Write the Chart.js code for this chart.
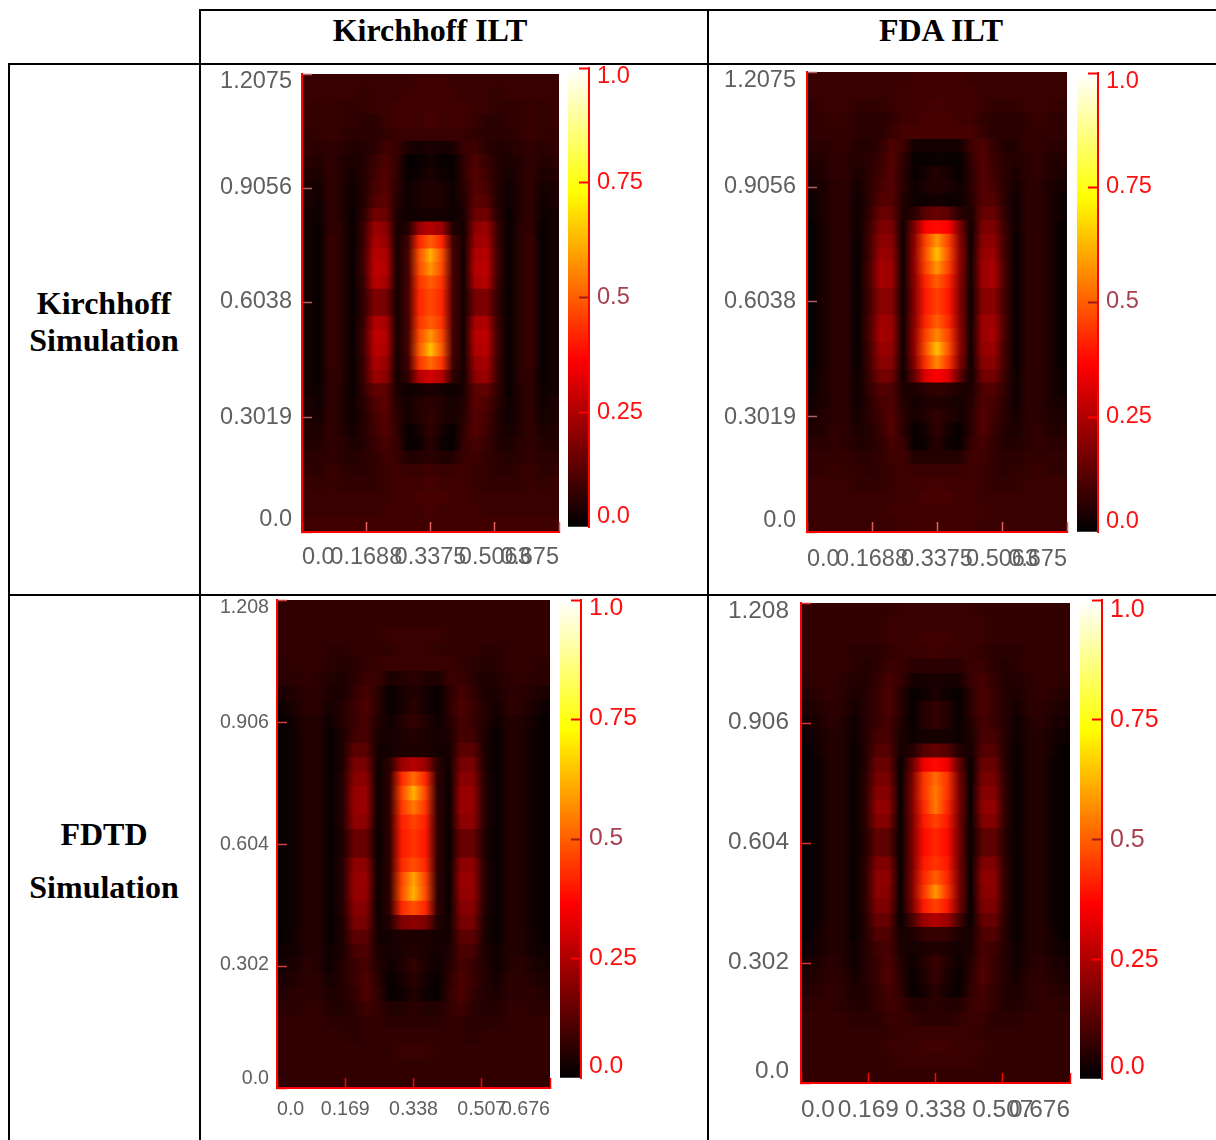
<!DOCTYPE html>
<html>
<head>
<meta charset="utf-8">
<script src="https://cdn.jsdelivr.net/npm/chart.js@4"></script>
<style>
  html, body { margin: 0; padding: 0; background: #fff; }
  #page { position: relative; width: 1216px; height: 1140px; overflow: hidden; }
  .rule { position: absolute; background: #000; }
  .cellText { position: absolute; transform: translate(-50%, -50%); white-space: nowrap; color: #000;
    font: bold 32px "Liberation Serif", serif; }
  canvas { position: absolute; filter: blur(0.55px); }
</style>
</head>
<body>
<div id="page"></div>
<script>
// Tick values and labels
const ticksX1 = [0, 0.1688, 0.3375, 0.5063, 0.675];
const labelsX1 = ['0.0', '0.1688', '0.3375', '0.5063', '0.675'];
const ticksY1 = [0, 0.3019, 0.6038, 0.9056, 1.2075];
const labelsY1 = ['0.0', '0.3019', '0.6038', '0.9056', '1.2075'];
const ticksX2 = [0, 0.169, 0.338, 0.507, 0.676];
const labelsX2 = ['0.0', '0.169', '0.338', '0.507', '0.676'];
const ticksY2 = [0, 0.302, 0.604, 0.906, 1.208];
const labelsY2 = ['0.0', '0.302', '0.604', '0.906', '1.208'];
const barTicks = [0, 0.25, 0.5, 0.75, 1];
const barLabels = ['0.0', '0.25', '0.5', '0.75', '1.0'];
const barLevels = [0, 0.05, 0.1, 0.15, 0.2, 0.25, 0.3, 0.365, 0.4, 0.45, 0.5, 0.55, 0.6, 0.65, 0.7, 0.73, 0.75, 0.8, 0.85, 0.9, 0.95, 1];

// Intensity in percent, top row first
const kirchhoffIlt = [
  [8,8,8,8,8,8,8,8,8,8,9,9,9,8,8,8,8,8,8,8,8,8,8],
  [8,8,8,8,8,7,8,8,8,9,9,9,9,9,8,8,8,7,8,8,8,8,8],
  [8,7,8,7,7,7,8,8,9,9,9,9,9,9,9,8,8,7,7,7,8,7,8],
  [8,7,8,7,7,6,6,8,9,9,9,10,9,9,9,8,6,6,7,7,8,7,8],
  [7,7,8,7,6,6,6,7,8,8,8,8,8,8,8,7,6,6,6,7,8,7,7],
  [7,6,7,6,5,5,6,9,8,4,3,4,3,4,8,9,6,5,5,6,7,6,7],
  [6,5,7,5,4,5,8,11,7,1,1,3,1,1,7,11,8,5,4,5,7,5,6],
  [5,4,7,5,3,5,9,12,7,1,2,4,2,1,7,12,9,5,3,5,7,4,5],
  [4,3,7,5,2,5,10,12,6,2,4,5,4,2,6,12,10,5,2,5,7,3,4],
  [4,2,7,5,2,5,12,13,5,2,4,5,4,2,5,13,12,5,2,5,7,2,4],
  [3,2,7,5,1,6,16,15,4,2,3,3,3,2,4,15,16,6,1,5,7,2,3],
  [3,1,7,6,1,8,22,20,3,5,22,26,22,5,3,20,22,8,1,6,7,1,3],
  [3,1,8,6,1,8,24,22,3,9,42,50,42,9,3,22,24,8,1,6,8,1,3],
  [3,1,8,6,1,9,26,25,3,10,48,62,48,10,3,25,26,9,1,6,8,1,3],
  [3,1,8,6,1,9,27,26,3,10,47,58,47,10,3,26,27,9,1,6,8,1,3],
  [3,1,8,6,1,8,26,24,3,10,44,50,44,10,3,24,26,8,1,6,8,1,3],
  [3,1,8,6,1,7,18,17,3,10,42,47,42,10,3,17,18,7,1,6,8,1,3],
  [3,1,8,6,1,7,18,17,3,10,42,47,42,10,3,17,18,7,1,6,8,1,3],
  [3,1,8,6,1,8,25,24,3,10,44,50,44,10,3,24,25,8,1,6,8,1,3],
  [3,1,8,6,1,9,27,26,3,10,47,58,47,10,3,26,27,9,1,6,8,1,3],
  [3,1,8,6,1,9,26,25,3,10,49,64,49,10,3,25,26,9,1,6,8,1,3],
  [3,1,8,6,1,8,24,22,3,9,44,52,44,9,3,22,24,8,1,6,8,1,3],
  [3,1,7,6,1,8,22,20,3,7,26,30,26,7,3,20,22,8,1,6,7,1,3],
  [3,2,7,5,1,7,14,13,4,2,3,4,3,2,4,13,14,7,1,5,7,2,3],
  [4,2,7,5,2,6,11,13,5,3,5,6,5,3,5,13,11,6,2,5,7,2,4],
  [4,3,7,5,2,5,10,12,6,3,5,7,5,3,6,12,10,5,2,5,7,3,4],
  [5,4,7,5,3,5,9,12,7,1,3,7,3,1,7,12,9,5,3,5,7,4,5],
  [5,5,7,6,4,5,8,10,8,1,2,6,2,1,8,10,8,5,4,6,7,5,5],
  [6,6,7,6,5,6,7,9,8,5,5,6,5,5,8,9,7,6,5,6,7,6,6],
  [7,6,8,7,6,6,7,8,9,8,8,9,8,8,9,8,7,6,6,7,8,6,7],
  [8,7,8,7,7,7,7,8,9,9,9,10,9,9,9,8,7,7,7,7,8,7,8],
  [8,8,8,8,8,8,8,8,9,9,10,10,10,9,9,8,8,8,8,8,8,8,8],
  [8,8,8,8,8,8,8,9,9,9,9,10,9,9,9,9,8,8,8,8,8,8,8],
  [9,9,9,9,9,9,9,9,9,9,9,9,9,9,9,9,9,9,9,9,9,9,9]
];

const fdaIlt = [
  [8,8,8,8,8,8,8,8,8,9,9,9,9,9,8,8,8,8,8,8,8,8,8],
  [8,8,8,8,8,8,8,8,9,9,9,9,9,9,9,8,8,8,8,8,8,8,8],
  [7,8,8,8,7,7,7,8,9,9,9,10,9,9,9,8,7,7,7,8,8,8,7],
  [7,7,8,7,6,6,6,7,9,9,10,10,10,9,9,7,6,6,6,7,8,7,7],
  [7,7,7,7,6,6,6,8,10,10,10,10,10,10,10,8,6,6,6,7,7,7,7],
  [6,6,7,7,5,5,7,11,9,3,3,3,3,3,9,11,7,5,5,7,7,6,6],
  [5,5,7,6,5,6,8,12,7,1,1,2,1,1,7,12,8,6,5,6,7,5,5],
  [4,5,7,6,4,6,9,12,6,1,3,5,3,1,6,12,9,6,4,6,7,5,4],
  [3,4,6,6,3,6,10,12,6,2,4,5,4,2,6,12,10,6,3,6,6,4,3],
  [2,4,6,6,2,6,12,12,5,2,2,3,2,2,5,12,12,6,2,6,6,4,2],
  [2,4,6,6,2,7,15,14,4,6,13,15,13,6,4,14,15,7,2,6,6,4,2],
  [1,4,6,6,2,8,18,17,2,18,36,38,36,18,2,17,18,8,2,6,6,4,1],
  [1,4,6,6,1,9,20,19,2,20,46,58,46,20,2,19,20,9,1,6,6,4,1],
  [1,4,6,6,1,9,22,21,2,21,48,64,48,21,2,21,22,9,1,6,6,4,1],
  [1,4,6,6,1,10,24,22,2,21,46,58,46,21,2,22,24,10,1,6,6,4,1],
  [1,4,6,6,1,10,24,22,2,20,42,50,42,20,2,22,24,10,1,6,6,4,1],
  [1,4,6,6,1,9,20,19,2,19,40,46,40,19,2,19,20,9,1,6,6,4,1],
  [1,4,6,6,1,9,20,19,2,19,40,46,40,19,2,19,20,9,1,6,6,4,1],
  [1,4,6,6,1,10,23,22,2,20,42,50,42,20,2,22,23,10,1,6,6,4,1],
  [1,4,6,6,1,10,24,22,2,21,46,56,46,21,2,22,24,10,1,6,6,4,1],
  [1,4,6,6,1,9,22,21,2,21,48,64,48,21,2,21,22,9,1,6,6,4,1],
  [1,4,6,6,1,9,20,19,2,19,44,56,44,19,2,19,20,9,1,6,6,4,1],
  [2,4,6,6,2,8,17,16,2,14,32,36,32,14,2,16,17,8,2,6,6,4,2],
  [2,4,6,6,2,7,12,11,4,4,6,7,6,4,4,11,12,7,2,6,6,4,2],
  [3,4,6,6,2,6,10,11,5,3,4,5,4,3,5,11,10,6,2,6,6,4,3],
  [4,5,6,6,3,6,9,12,6,3,5,7,5,3,6,12,9,6,3,6,6,5,4],
  [5,5,7,6,4,5,8,12,6,1,3,7,3,1,6,12,8,5,4,6,7,5,5],
  [6,6,7,6,5,5,7,10,8,1,2,6,2,1,8,10,7,5,5,6,7,6,6],
  [7,7,7,7,6,6,7,9,9,5,5,5,5,5,9,9,7,6,6,7,7,7,7],
  [7,7,8,7,7,6,7,8,9,8,8,8,8,8,9,8,7,6,7,7,8,7,7],
  [8,8,8,8,7,7,7,8,9,9,9,10,9,9,9,8,7,7,7,8,8,8,8],
  [8,8,8,8,8,8,8,8,9,9,10,10,10,9,9,8,8,8,8,8,8,8,8],
  [8,8,8,8,8,8,8,9,9,9,9,9,9,9,9,9,8,8,8,8,8,8,8],
  [8,8,8,8,8,8,8,8,9,9,9,9,9,9,9,8,8,8,8,8,8,8,8]
];

const fdtdKirchhoff = [
  [7,7,7,7,7,7,7,7,7,7,7,7,7,7,7,7,7,7,7,7,7,7,7],
  [7,7,7,7,7,7,7,7,7,7,7,7,7,7,7,7,7,7,7,7,7,7,7],
  [7,7,7,7,7,7,7,7,7,8,8,8,8,8,7,7,7,7,7,7,7,7,7],
  [7,7,7,7,6,6,7,7,7,7,8,8,8,7,7,7,7,6,6,7,7,7,7],
  [6,7,7,7,6,5,6,7,8,8,8,8,8,8,8,7,6,5,6,7,7,7,6],
  [6,6,7,6,5,4,6,8,8,4,5,6,5,4,8,8,6,4,5,6,7,6,6],
  [4,5,6,6,4,4,7,10,6,1,3,5,3,1,6,10,7,4,4,6,6,5,4],
  [2,4,6,6,3,5,8,11,6,1,3,6,3,1,6,11,8,5,3,6,6,4,2],
  [1,3,5,5,2,5,8,10,5,2,5,7,5,2,5,10,8,5,2,5,5,3,1],
  [1,2,5,5,1,4,9,10,4,3,4,5,4,3,4,10,9,4,1,5,5,2,1],
  [1,2,5,5,1,4,13,13,3,3,4,4,4,3,3,13,13,4,1,5,5,2,1],
  [1,2,5,5,1,4,17,17,2,6,22,26,22,6,2,17,17,4,1,5,5,2,1],
  [1,2,5,5,1,5,19,20,1,7,42,52,42,7,1,20,19,5,1,5,5,2,1],
  [1,2,5,5,1,5,21,22,1,7,46,62,46,7,1,22,21,5,1,5,5,2,1],
  [1,2,5,5,1,5,21,22,1,7,44,54,44,7,1,22,21,5,1,5,5,2,1],
  [1,2,5,5,1,5,20,20,1,7,41,46,41,7,1,20,20,5,1,5,5,2,1],
  [1,2,5,5,1,4,15,15,1,7,40,44,40,7,1,15,15,4,1,5,5,2,1],
  [1,2,5,5,1,4,15,15,1,7,40,44,40,7,1,15,15,4,1,5,5,2,1],
  [1,2,5,5,1,5,20,20,1,7,42,48,42,7,1,20,20,5,1,5,5,2,1],
  [1,2,5,5,1,5,21,22,1,7,46,60,46,7,1,22,21,5,1,5,5,2,1],
  [1,2,5,5,1,5,21,21,1,7,47,62,47,7,1,21,21,5,1,5,5,2,1],
  [1,2,5,5,1,5,19,19,1,7,42,48,42,7,1,19,19,5,1,5,5,2,1],
  [1,2,5,5,1,4,17,17,2,5,18,20,18,5,2,17,17,4,1,5,5,2,1],
  [1,3,5,5,1,4,13,13,3,3,4,4,4,3,3,13,13,4,1,5,5,3,1],
  [2,3,5,5,2,4,10,11,4,3,4,5,4,3,4,11,10,4,2,5,5,3,2],
  [3,4,6,5,2,5,8,10,5,2,4,7,4,2,5,10,8,5,2,5,6,4,3],
  [4,5,6,6,3,5,8,11,6,1,3,6,3,1,6,11,8,5,3,6,6,5,4],
  [5,6,6,6,4,5,7,11,7,1,2,5,2,1,7,11,7,5,4,6,6,6,5],
  [6,6,7,7,5,5,6,9,7,5,5,6,5,5,7,9,6,5,5,7,7,6,6],
  [7,7,7,7,6,6,6,7,7,6,6,6,6,6,7,7,6,6,6,7,7,7,7],
  [7,7,7,7,7,7,6,7,7,7,7,7,7,7,7,7,6,7,7,7,7,7,7],
  [7,7,7,7,7,7,7,7,7,7,8,8,8,7,7,7,7,7,7,7,7,7,7],
  [7,7,7,7,7,7,7,7,7,7,7,7,7,7,7,7,7,7,7,7,7,7,7],
  [7,7,7,7,7,7,7,7,7,7,7,7,7,7,7,7,7,7,7,7,7,7,7]
];

const fdtdFda = [
  [7,7,7,7,7,7,7,7,8,8,8,8,8,8,8,7,7,7,7,7,7,7,7],
  [7,7,7,7,7,7,7,8,8,8,8,8,8,8,8,8,7,7,7,7,7,7,7],
  [7,7,7,7,7,7,7,8,8,8,9,9,9,8,8,8,7,7,7,7,7,7,7],
  [7,7,7,7,6,6,6,7,8,8,8,9,8,8,8,7,6,6,6,7,7,7,7],
  [7,7,7,7,6,5,6,8,8,6,6,6,6,6,8,8,6,5,6,7,7,7,7],
  [6,7,7,6,5,5,7,10,8,3,3,4,3,3,8,10,7,5,5,6,7,7,6],
  [5,6,7,6,4,5,8,11,6,1,2,4,2,1,6,11,8,5,4,6,7,6,5],
  [4,5,6,6,3,5,8,11,6,1,5,7,5,1,6,11,8,5,3,6,6,5,4],
  [3,4,6,5,2,5,8,10,5,1,5,7,5,1,5,10,8,5,2,5,6,4,3],
  [2,3,5,5,2,5,10,10,4,2,3,3,3,2,4,10,10,5,2,5,5,3,2],
  [1,3,5,5,1,5,12,12,3,5,12,14,12,5,3,12,12,5,1,5,5,3,1],
  [1,2,5,5,1,5,15,15,1,14,34,38,34,14,1,15,15,5,1,5,5,2,1],
  [1,2,5,5,1,6,17,17,1,17,44,52,44,17,1,17,17,6,1,5,5,2,1],
  [1,2,5,5,1,6,19,19,1,18,44,54,44,18,1,19,19,6,1,5,5,2,1],
  [1,2,5,5,1,6,21,20,1,18,42,54,42,18,1,20,21,6,1,5,5,2,1],
  [1,2,5,5,1,6,19,18,1,17,40,46,40,17,1,18,19,6,1,5,5,2,1],
  [1,2,5,5,1,5,14,13,1,17,38,42,38,17,1,13,14,5,1,5,5,2,1],
  [1,2,5,5,1,5,14,13,1,17,38,42,38,17,1,13,14,5,1,5,5,2,1],
  [1,2,5,5,1,6,18,18,1,17,40,44,40,17,1,18,18,6,1,5,5,2,1],
  [1,2,5,5,1,6,20,20,1,18,42,50,42,18,1,20,20,6,1,5,5,2,1],
  [1,2,5,5,1,6,20,19,1,18,44,58,44,18,1,19,20,6,1,5,5,2,1],
  [1,2,5,5,1,6,18,17,1,17,40,46,40,17,1,17,18,6,1,5,5,2,1],
  [1,2,5,5,1,5,15,14,1,10,22,25,22,10,1,14,15,5,1,5,5,2,1],
  [1,3,5,5,1,5,12,11,3,4,7,8,7,4,3,11,12,5,1,5,5,3,1],
  [2,3,5,5,2,5,9,10,4,3,4,5,4,3,4,10,9,5,2,5,5,3,2],
  [3,4,6,5,2,5,8,11,5,2,5,8,5,2,5,11,8,5,2,5,6,4,3],
  [4,5,6,6,3,5,8,12,6,1,4,8,4,1,6,12,8,5,3,6,6,5,4],
  [5,6,7,6,4,5,7,10,7,1,3,6,3,1,7,10,7,5,4,6,7,6,5],
  [6,7,7,6,5,5,7,9,8,5,5,6,5,5,8,9,7,5,5,6,7,7,6],
  [7,7,7,7,6,6,6,8,8,7,6,6,6,7,8,8,6,6,6,7,7,7,7],
  [7,7,7,7,7,7,7,7,8,8,8,8,8,8,8,7,7,7,7,7,7,7,7],
  [7,7,7,7,7,7,7,8,8,8,9,9,9,8,8,8,7,7,7,7,7,7,7],
  [7,7,7,7,7,7,7,7,8,8,8,8,8,8,8,7,7,7,7,7,7,7,7],
  [7,7,7,7,7,7,7,7,7,7,7,7,7,7,7,7,7,7,7,7,7,7,7]
];

// black - red - yellow - white, same ramp as the colour bars
function hotColor(v) {
  const r = Math.min(1, v / 0.365);
  const g = Math.max(0, Math.min(1, (v - 0.365) / 0.365));
  const b = Math.max(0, Math.min(1, (v - 0.73) / 0.27));
  return `rgb(${Math.round(r * 255)},${Math.round(g * 255)},${Math.round(b * 255)})`;
}

const page = document.getElementById('page');

function addRule(left, top, width, height) {
  const d = document.createElement('div');
  d.className = 'rule';
  d.style.cssText = `left:${left}px;top:${top}px;width:${width}px;height:${height}px`;
  page.appendChild(d);
}

function addText(text, cx, cy) {
  const d = document.createElement('div');
  d.className = 'cellText';
  d.textContent = text;
  d.style.left = cx + 'px';
  d.style.top = cy + 'px';
  page.appendChild(d);
}

function addCanvas(left, top, width, height) {
  const c = document.createElement('canvas');
  c.width = width;
  c.height = height;
  c.style.left = left + 'px';
  c.style.top = top + 'px';
  c.style.width = width + 'px';
  c.style.height = height + 'px';
  page.appendChild(c);
  return c;
}

// Fixed axis size, and no extra room for the end labels
function fixAxis(scale, size) {
  if (scale.isHorizontal()) scale.height = size;
  else scale.width = size;
  scale.paddingTop = scale.paddingBottom = scale.paddingLeft = scale.paddingRight = 0;
}

// Vertical axes have no 'inner' label alignment, so nudge each label by hand
function nudgeLabels(scale, shifts) {
  if (scale._nudged) return;
  scale._nudged = true;
  const compute = scale._computeLabelItems.bind(scale);
  scale._computeLabelItems = area => compute(area).map((item, i) => {
    item.options.translation[1] += shifts[i];
    return item;
  });
}

// Table lines
addRule(200, 9, 1016, 2);
addRule(8, 63, 1208, 2);
addRule(8, 594, 1208, 2);
addRule(8, 63, 2, 1077);
addRule(199, 9, 2, 1131);
addRule(707, 9, 2, 1131);

addText('Kirchhoff ILT', 430, 30);
addText('FDA ILT', 941, 30);
addText('Kirchhoff', 104, 303);
addText('Simulation', 104, 340);
addText('FDTD', 104, 834);
addText('Simulation', 104, 887);

const FONT = '"Liberation Sans", sans-serif';
const GREY = '#606060';

function drawHeatmap(p) {
  const marginL = 92, marginT = 12, marginR = 4, marginB = 44;
  const canvas = addCanvas(p.left - marginL, p.top - marginT,
    p.right - p.left + marginL + marginR, p.bottom - p.top + marginT + marginB);
  const xMax = p.xTicks[p.xTicks.length - 1];
  const yMax = p.yTicks[p.yTicks.length - 1];
  const rows = p.grid.length;
  const rowData = p.grid.map((row, i) => ({ x: xMax, y: yMax * (1 - (i + 0.5) / rows) }));

  new Chart(canvas, {
    type: 'bar',
    data: {
      datasets: [{
        data: rowData,
        borderWidth: 0,
        inflateAmount: 0,
        barPercentage: 1.1,
        categoryPercentage: 1,
        // one gradient per row, stops at the column centres
        backgroundColor: ctx => {
          const xs = ctx.chart.scales.x;
          const row = p.grid[ctx.dataIndex];
          if (!row || !xs || !ctx.chart.chartArea) return '#000';
          const x0 = xs.getPixelForValue(0), x1 = xs.getPixelForValue(xMax);
          if (!isFinite(x0) || !isFinite(x1)) return '#000';
          const g = ctx.chart.ctx.createLinearGradient(x0, 0, x1, 0);
          row.forEach((v, c) => g.addColorStop((c + 0.5) / row.length, hotColor(v / 100)));
          return g;
        }
      }]
    },
    options: {
      indexAxis: 'y',
      responsive: false,
      animation: false,
      events: [],
      layout: { padding: { top: marginT, right: marginR, left: 0, bottom: 0 } },
      plugins: { legend: { display: false }, tooltip: { enabled: false } },
      scales: {
        x: {
          type: 'linear', min: 0, max: xMax,
          afterBuildTicks: s => { s.ticks = p.xTicks.map(value => ({ value })); },
          afterFit: s => { fixAxis(s, marginB); },
          border: { color: '#ff0000', width: 2, z: 2 },
          grid: { z: 1, drawOnChartArea: false, tickLength: -10, tickWidth: 1.5, tickColor: p.xTickColor },
          ticks: {
            autoSkip: false, maxRotation: 0, align: 'inner', padding: p.xPad,
            color: GREY, font: { family: FONT, size: p.xFont },
            callback: (v, i) => p.xLabels[i]
          }
        },
        y: {
          type: 'linear', min: 0, max: yMax, offset: false,
          afterBuildTicks: s => { s.ticks = p.yTicks.map(value => ({ value })); },
          afterFit: s => { fixAxis(s, marginL); nudgeLabels(s, p.yShift); },
          border: { color: '#ff0000', width: 2, z: 2 },
          grid: { z: 1, offset: false, drawOnChartArea: false, tickLength: -10, tickWidth: 1.5, tickColor: p.yTickColor },
          ticks: {
            autoSkip: false, padding: p.yPad,
            color: GREY, font: { family: FONT, size: p.yFont },
            callback: (v, i) => p.yLabels[i]
          }
        }
      }
    }
  });
}

function drawColorBar(p) {
  const marginT = 8, marginB = 8, marginR = 66;
  const c = p.bar;
  const canvas = addCanvas(c.left, c.top - marginT, c.right - c.left + marginR, c.bottom - c.top + marginT + marginB);

  new Chart(canvas, {
    type: 'bar',
    data: {
      labels: ['intensity'],
      datasets: [{
        data: [1],
        borderWidth: 0,
        barPercentage: 1,
        categoryPercentage: 1,
        backgroundColor: ctx => {
          const ys = ctx.chart.scales.y;
          if (!ys || !ctx.chart.chartArea) return '#000';
          const y0 = ys.getPixelForValue(0), y1 = ys.getPixelForValue(1);
          if (!isFinite(y0) || !isFinite(y1)) return '#000';
          const g = ctx.chart.ctx.createLinearGradient(0, y0, 0, y1);
          barLevels.forEach(v => g.addColorStop(v, hotColor(v)));
          return g;
        }
      }]
    },
    options: {
      responsive: false,
      animation: false,
      events: [],
      layout: { padding: { top: marginT, bottom: marginB, left: 0, right: 0 } },
      plugins: { legend: { display: false }, tooltip: { enabled: false } },
      scales: {
        x: { display: false },
        y: {
          type: 'linear', position: 'right', min: 0, max: 1,
          afterBuildTicks: s => { s.ticks = barTicks.map(value => ({ value })); },
          afterFit: s => { fixAxis(s, marginR); nudgeLabels(s, c.shift); },
          border: { color: '#ff0000', width: 2, z: 2 },
          grid: {
            z: 1, drawOnChartArea: false, tickLength: -10, tickWidth: 2,
            tickColor: ctx => {
              const v = ctx.tick ? ctx.tick.value : 1;
              return v === 0 ? 'rgba(0,0,0,0)' : v === 0.5 ? '#a01818' : '#ff0000';
            }
          },
          ticks: {
            autoSkip: false, padding: 18,
            color: ctx => (ctx.tick && ctx.tick.value === 0.5 ? '#a8404f' : '#ff1010'),
            font: { family: FONT, size: c.font },
            callback: (v, i) => barLabels[i]
          }
        }
      }
    }
  });
}

const panels = [
  { grid: kirchhoffIlt, left: 302, right: 559, top: 74, bottom: 532,
    xTicks: ticksX1, xLabels: labelsX1, yTicks: ticksY1, yLabels: labelsY1,
    xFont: 23.5, yFont: 23.5, xPad: 21, yPad: 20, xTickColor: '#e06060', yTickColor: '#b06060',
    yShift: [-12, 0, -1, -1, 8],
    bar: { left: 568, right: 589, top: 68, bottom: 527, font: 23.6, shift: [-11, 0, 0, 0, 8] } },
  { grid: fdaIlt, left: 807, right: 1067, top: 72, bottom: 532,
    xTicks: ticksX1, xLabels: labelsX1, yTicks: ticksY1, yLabels: labelsY1,
    xFont: 23.5, yFont: 23.5, xPad: 23, yPad: 21, xTickColor: '#e06060', yTickColor: '#b06060',
    yShift: [-11, 1, 0, 0, 9],
    bar: { left: 1077, right: 1098, top: 73, bottom: 532, font: 23.6, shift: [-11, -1, -1, -1, 8] } },
  { grid: fdtdKirchhoff, left: 277, right: 550, top: 600, bottom: 1088,
    xTicks: ticksX2, xLabels: labelsX2, yTicks: ticksY2, yLabels: labelsY2,
    xFont: 19.6, yFont: 19.6, xPad: 20, yPad: 18, xTickColor: '#ff0000', yTickColor: '#d04040',
    yShift: [-9, -1, 1, 1, 8],
    bar: { left: 560, right: 581, top: 600, bottom: 1078, font: 24.7, shift: [-12, 0, -1, -1, 8] } },
  { grid: fdtdFda, left: 801, right: 1070, top: 603, bottom: 1083,
    xTicks: ticksX2, xLabels: labelsX2, yTicks: ticksY2, yLabels: labelsY2,
    xFont: 24.4, yFont: 24.4, xPad: 23, yPad: 22, xTickColor: '#ff0000', yTickColor: '#e03030',
    yShift: [-12, -1, -1, -1, 8],
    bar: { left: 1080, right: 1102, top: 600, bottom: 1079, font: 25, shift: [-12, 1, 1, 0, 10] } }
];

panels.forEach(p => {
  drawHeatmap(p);
  drawColorBar(p);
});
</script>
</body>
</html>
